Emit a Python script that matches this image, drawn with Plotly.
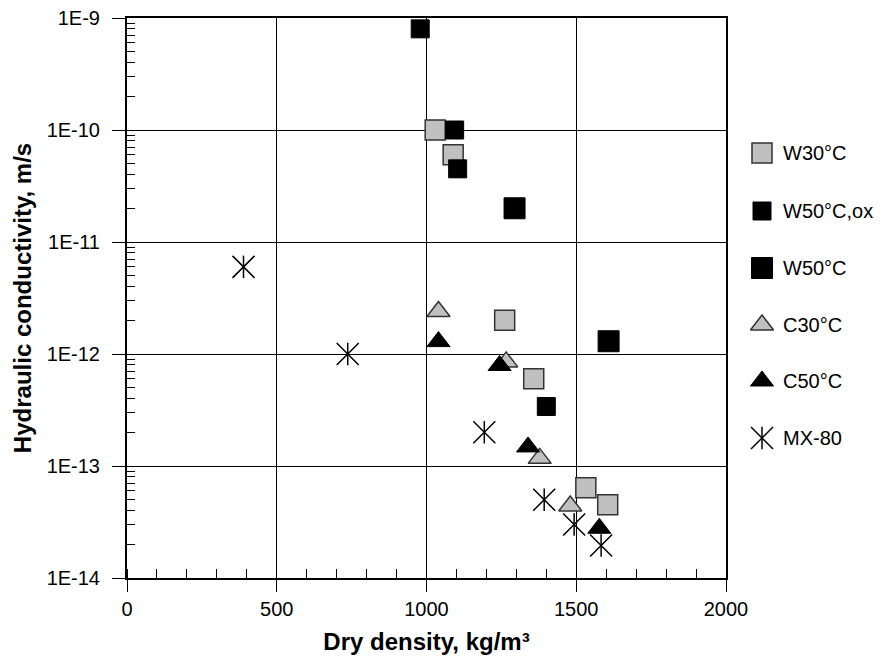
import numpy as np
import plotly.graph_objects as go

# ---- data ----
w30_x = [1029, 1089, 1261, 1358, 1532, 1605]
w30_y = [1.0e-10, 6.0e-11, 2.0e-12, 6.0e-13, 6.4e-14, 4.5e-14]

w50ox_x = [979, 1094, 1104, 1400]
w50ox_y = [8.0e-10, 1.0e-10, 4.5e-11, 3.4e-13]

w50_x = [1294, 1608]
w50_y = [2.0e-11, 1.3e-12]

c30_x = [1040, 1266, 1378, 1480]
c30_y = [2.4e-12, 8.5e-13, 1.17e-13, 4.4e-14]

c50_x = [1040, 1244, 1339, 1577]
c50_y = [1.29e-12, 7.9e-13, 1.48e-13, 2.78e-14]

mx80_x = [389, 737, 1193, 1393, 1493, 1583]
mx80_y = [6.0e-12, 1.0e-12, 2.0e-13, 5.0e-14, 3.0e-14, 1.95e-14]

series_names = ["W30°C", "W50°C,ox", "W50°C", "C30°C", "C50°C", "MX-80"]
y_tickvals = [1e-14, 1e-13, 1e-12, 1e-11, 1e-10, 1e-9]
y_ticktext = ["1E-14", "1E-13", "1E-12", "1E-11", "1E-10", "1E-9"]
x_tickvals = [0, 500, 1000, 1500, 2000]

FONT = "Liberation Sans, Arial, sans-serif"

# ---- styles ----
GRAY = "#c0c0c0"
EDGE = "#333333"
styles = [
    dict(symbol="square", size=20, color=GRAY, line=dict(color=EDGE, width=1.5)),
    dict(symbol="square", size=18, color="black", line=dict(color="black", width=1)),
    dict(symbol="square", size=21, color="black", line=dict(color="black", width=1)),
    dict(symbol="triangle-up", size=20, color=GRAY, line=dict(color=EDGE, width=1.5)),
    dict(symbol="triangle-up", size=20, color="black", line=dict(color="black", width=1)),
]
star_x = dict(symbol="x-thin-open", size=22, color="black", line=dict(color="black", width=1.5))
star_v = dict(symbol="line-ns-open", size=16, color="black", line=dict(color="black", width=1.5))

fig = go.Figure()
series = [(w30_x, w30_y), (w50ox_x, w50ox_y), (w50_x, w50_y), (c30_x, c30_y), (c50_x, c50_y)]
for (xs, ys), st, nm in zip(series, styles, series_names):
    fig.add_trace(go.Scatter(x=xs, y=ys, mode="markers", marker=st, name=nm,
                             showlegend=False, xaxis="x", yaxis="y"))
for st in (star_x, star_v):
    fig.add_trace(go.Scatter(x=mx80_x, y=mx80_y, mode="markers", marker=st,
                             name=series_names[5], showlegend=False, xaxis="x", yaxis="y"))

# ---- custom legend on a helper axis (pixel-like coordinates) ----
leg_rows = [153, 211, 268, 325, 381, 438]
leg_mx = 762
leg_tx = 781
for st, nm, ry in zip(styles, series_names[:5], leg_rows[:5]):
    fig.add_trace(go.Scatter(x=[leg_mx], y=[ry], mode="markers", marker=st,
                             showlegend=False, xaxis="x2", yaxis="y2", hoverinfo="skip"))
for st in (star_x, star_v):
    fig.add_trace(go.Scatter(x=[leg_mx], y=[leg_rows[5]], mode="markers", marker=st,
                             showlegend=False, xaxis="x2", yaxis="y2", hoverinfo="skip"))
annotations = []
for nm, ry in zip(series_names, leg_rows):
    annotations.append(dict(x=leg_tx, y=ry, xref="x2", yref="y2", text=nm, showarrow=False,
                            xanchor="left", yanchor="middle",
                            font=dict(size=20, color="black", family=FONT)))

minor_y = [k * 10.0 ** e for e in range(-14, -9) for k in range(2, 10)]

W, H = 880, 666
ML, MT, MB = 127, 18, 88
plot_w = W - ML
main_frac = (726 - ML) / plot_w

fig.update_layout(
    width=W, height=H,
    margin=dict(l=ML, r=0, t=MT, b=MB, autoexpand=False),
    paper_bgcolor="white", plot_bgcolor="white",
    font=dict(family=FONT, size=20, color="black"),
    showlegend=False,
    annotations=annotations,
    xaxis=dict(
        domain=[0, main_frac], range=[0, 2000], tickvals=x_tickvals,
        ticks="outside", ticklen=12, tickwidth=1, tickcolor="black",
        showgrid=True, gridcolor="black", gridwidth=1,
        showline=True, linecolor="black", linewidth=2, mirror=True,
        zeroline=False, automargin=False,
        minor=dict(dtick=100, ticks="inside", ticklen=9, tickwidth=1, tickcolor="black", showgrid=False),
        title=dict(text="<b>Dry density, kg/m³</b>", font=dict(size=24, family=FONT), standoff=14),
        tickfont=dict(size=20, family=FONT),
        anchor="y",
    ),
    yaxis=dict(
        type="log", range=[-14, -9], tickvals=y_tickvals, ticktext=y_ticktext,
        ticks="outside", ticklen=13, tickwidth=1, tickcolor="black",
        ticklabelstandoff=8,
        showgrid=True, gridcolor="black", gridwidth=1,
        showline=True, linecolor="black", linewidth=2, mirror=True,
        zeroline=False, automargin=False,
        minor=dict(tickmode="array", tickvals=minor_y, ticks="inside", ticklen=8,
                   tickwidth=1, tickcolor="black", showgrid=False),
        title=dict(text="<b>Hydraulic conductivity, m/s</b>", font=dict(size=24, family=FONT), standoff=8),
        tickfont=dict(size=20, family=FONT),
        anchor="x",
    ),
    xaxis2=dict(domain=[main_frac, 1], range=[726, 880], visible=False, fixedrange=True,
                anchor="y2", automargin=False),
    yaxis2=dict(domain=[0, 1], range=[578, 18], visible=False, fixedrange=True,
                anchor="x2", automargin=False),
)

fig.write_html("out.html")
